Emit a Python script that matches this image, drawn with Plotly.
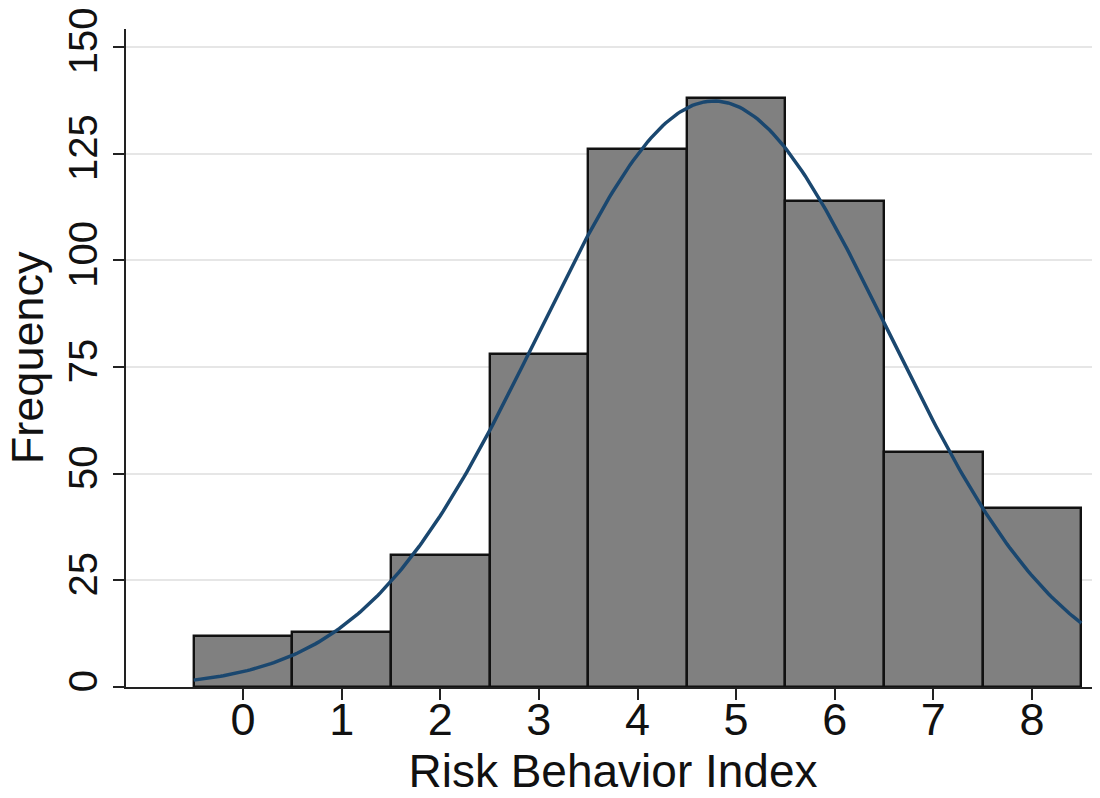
import numpy as np
import plotly.graph_objects as go

# Data
risk_index = [0, 1, 2, 3, 4, 5, 6, 7, 8]
frequency = [12, 13, 31, 78, 126, 138, 114, 55, 42]
y_ticks = [0, 25, 50, 75, 100, 125, 150]
x_ticks = [0, 1, 2, 3, 4, 5, 6, 7, 8]
x_title = "Risk Behavior Index"
y_title = "Frequency"

# Normal curve fitted to the histogram (mean/sd from the counts)
x_arr = np.array(risk_index, dtype=float)
f_arr = np.array(frequency, dtype=float)
n_obs = f_arr.sum()
mean = (x_arr * f_arr).sum() / n_obs
sd = np.sqrt(((x_arr - mean) ** 2 * f_arr).sum() / n_obs)
bin_width = 1.0
curve_x = np.linspace(x_arr.min() - 0.5, x_arr.max() + 0.5, 300)
curve_y = n_obs * bin_width / (sd * np.sqrt(2 * np.pi)) * np.exp(-0.5 * ((curve_x - mean) / sd) ** 2)

FONT = "Liberation Sans, Arial, sans-serif"

fig = go.Figure()
fig.add_trace(go.Bar(
    x=risk_index, y=frequency, width=1,
    marker=dict(color="#808080", line=dict(color="#111111", width=2.4)),
    showlegend=False,
))
fig.add_trace(go.Scatter(
    x=curve_x, y=curve_y, mode="lines",
    line=dict(color="#1a476f", width=3.5),
    showlegend=False,
))

# The page body adds an 8px offset, so the figure is 8px smaller on each axis.
fig.update_layout(
    width=1092, height=790,
    margin=dict(l=118, r=0, t=21, b=111),
    paper_bgcolor="white", plot_bgcolor="white",
    font=dict(family=FONT, color="#111111"),
    bargap=0,
    xaxis=dict(
        range=[-1.187, 8.69],
        tickmode="array", tickvals=x_ticks, ticktext=[str(v) for v in x_ticks],
        ticks="outside", ticklen=11, tickwidth=2, tickcolor="#222222",
        tickfont=dict(size=45, family=FONT, color="#111111"),
        ticklabelstandoff=-19,
        showline=True, linecolor="#222222", linewidth=2,
        showgrid=False, zeroline=False, automargin=False,
        title=dict(text=x_title, font=dict(size=46, family=FONT, color="#111111"), standoff=0),
    ),
    yaxis=dict(
        range=[0, 154.2],
        tickmode="array", tickvals=y_ticks, ticktext=[str(v) for v in y_ticks],
        ticks="outside", ticklen=11, tickwidth=2, tickcolor="#222222",
        tickangle=-90,
        tickfont=dict(size=40, family=FONT, color="#111111"),
        ticklabeloverflow="allow",
        showline=True, linecolor="#222222", linewidth=2,
        showgrid=True, gridcolor="#e6e6e6", gridwidth=2,
        zeroline=False, automargin=False,
    ),
    annotations=[dict(
        text=y_title, textangle=-90, showarrow=False,
        xref="paper", yref="paper", x=-0.1015, y=0.5,
        xanchor="center", yanchor="middle", borderpad=0,
        font=dict(size=45, family=FONT, color="#111111"),
    )],
)

fig.write_html("out.html")
